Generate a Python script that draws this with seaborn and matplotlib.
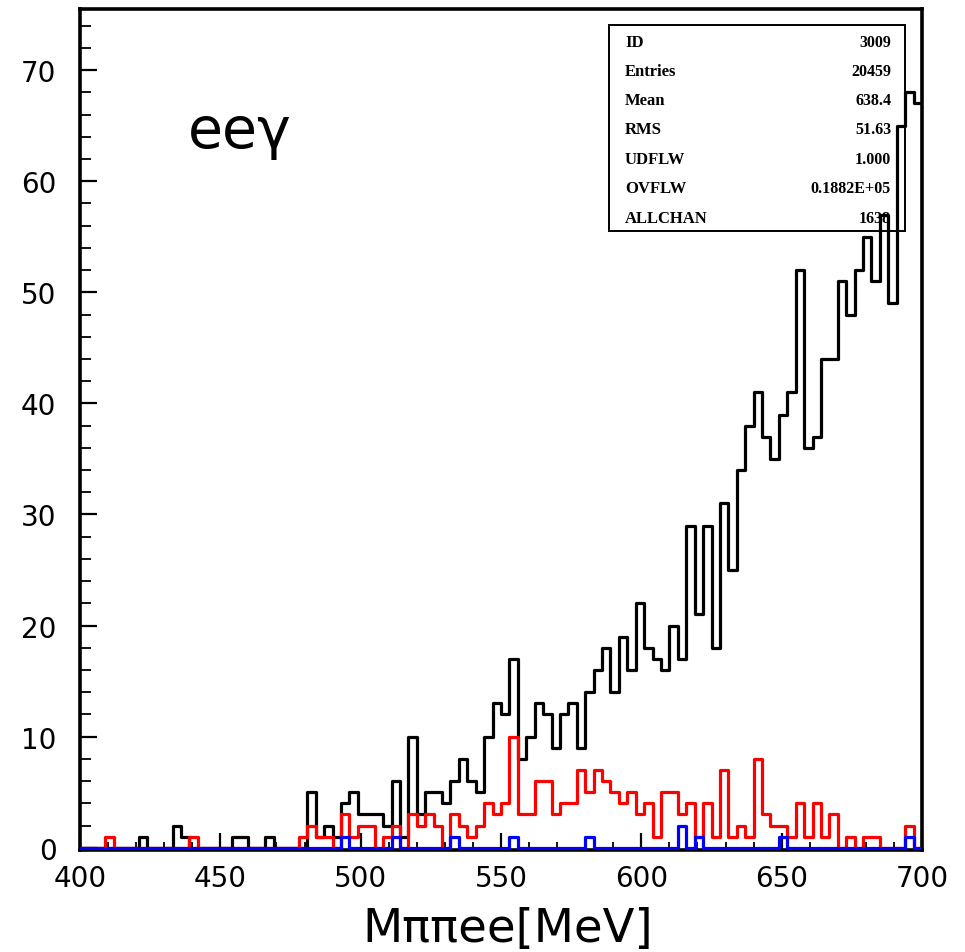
import numpy as np
import pandas as pd
import matplotlib
matplotlib.use("Agg")
import matplotlib.pyplot as plt
import seaborn as sns
from matplotlib.ticker import MultipleLocator
from matplotlib.patches import Rectangle

# ---------------- data ----------------
X_MIN, X_MAX, N_BINS = 400, 700, 100

black_counts = [
    0, 0, 0, 0, 0, 0, 0, 1, 0, 0,
    0, 2, 1, 0, 0, 0, 0, 0, 1, 1,
    0, 0, 1, 0, 0, 0, 0, 5, 1, 2,
    1, 4, 5, 3, 3, 3, 2, 6, 1, 10,
    3, 5, 5, 4, 6, 8, 6, 5, 10, 13,
    12, 17, 8, 10, 13, 12, 9, 12, 13, 9,
    14, 16, 18, 14, 19, 16, 22, 18, 17, 16,
    20, 17, 29, 21, 29, 18, 31, 25, 34, 38,
    41, 37, 35, 39, 41, 52, 36, 37, 44, 44,
    51, 48, 52, 55, 51, 57, 49, 65, 68, 67,
]
red_counts = [
    0, 0, 0, 1, 0, 0, 0, 0, 0, 0,
    0, 0, 0, 1, 0, 0, 0, 0, 0, 0,
    0, 0, 0, 0, 0, 0, 1, 2, 1, 1,
    0, 3, 1, 2, 2, 0, 1, 2, 0, 3,
    2, 3, 2, 0, 3, 2, 1, 2, 4, 3,
    4, 10, 3, 3, 6, 6, 3, 4, 4, 7,
    5, 7, 6, 5, 4, 5, 3, 4, 1, 5,
    5, 3, 4, 1, 4, 1, 7, 1, 2, 1,
    8, 3, 2, 2, 1, 4, 1, 4, 1, 3,
    0, 1, 0, 1, 1, 0, 0, 0, 2, 0,
]
blue_counts = [
    0, 0, 0, 0, 0, 0, 0, 0, 0, 0,
    0, 0, 0, 0, 0, 0, 0, 0, 0, 0,
    0, 0, 0, 0, 0, 0, 0, 0, 0, 0,
    0, 1, 0, 0, 0, 0, 0, 1, 0, 0,
    0, 0, 0, 0, 1, 0, 0, 0, 0, 0,
    0, 1, 0, 0, 0, 0, 0, 0, 0, 0,
    1, 0, 0, 0, 0, 0, 0, 0, 0, 0,
    0, 2, 0, 1, 0, 0, 0, 0, 0, 0,
    0, 0, 0, 1, 0, 0, 0, 0, 0, 0,
    0, 0, 0, 0, 0, 0, 0, 0, 1, 0,
]

stat_labels = ["ID", "Entries", "Mean", "RMS", "UDFLW", "OVFLW", "ALLCHAN"]
stat_values = ["3009", "20459", "638.4", "51.63", "1.000", "0.1882E+05", "1638"]

x_ticks = [400, 450, 500, 550, 600, 650, 700]
y_ticks = [0, 10, 20, 30, 40, 50, 60, 70]

x_label = "Mππee[MeV]"
channel_label = "eeγ"

# ---------------- style ----------------
sns.set_style("ticks")
plt.rcParams["font.family"] = ["DejaVu Sans"]
plt.rcParams["text.color"] = "black"
plt.rcParams["axes.labelcolor"] = "black"
plt.rcParams["xtick.color"] = "black"
plt.rcParams["ytick.color"] = "black"

W, H = 965, 953
fig = plt.figure(figsize=(W / 100, H / 100), dpi=100)
ax_l, ax_r, ax_t, ax_b = 80, 922, 10, 851
ax = fig.add_axes([ax_l / W, 1 - ax_b / H, (ax_r - ax_l) / W, (ax_b - ax_t) / H])

edges = np.linspace(X_MIN, X_MAX, N_BINS + 1)
centers = 0.5 * (edges[:-1] + edges[1:])
bin_list = [float(e) for e in edges]

for counts, col, z in [(black_counts, "black", 3), (red_counts, "#ff0000", 4), (blue_counts, "#0000ff", 5)]:
    df = pd.DataFrame({"M": centers, "n": np.asarray(counts, dtype=float)})
    sns.histplot(data=df, x="M", weights="n", bins=bin_list, element="step", fill=False,
                 color=col, linewidth=2.3, ax=ax, zorder=z)

ax.set_xlim(X_MIN, X_MAX)
ax.set_ylim(-0.2, 75.5)
ax.set_ylabel("")

ax.set_xticks(x_ticks)
ax.set_yticks(y_ticks)
ax.xaxis.set_minor_locator(MultipleLocator(10))
ax.yaxis.set_minor_locator(MultipleLocator(2))
ax.tick_params(which="both", direction="in", top=False, right=False, colors="black")
ax.xaxis.set_tick_params(which="major", length=12, width=1.6, labelsize=20, pad=10)
ax.xaxis.set_tick_params(which="minor", length=6, width=1.3)
ax.yaxis.set_tick_params(which="major", length=12, width=1.6, labelsize=20, pad=17)
ax.yaxis.set_tick_params(which="minor", length=8, width=1.3)
for lab in ax.get_xticklabels() + ax.get_yticklabels():
    lab.set_family("DejaVu Sans")
    lab.set_color("black")

for s in ax.spines.values():
    s.set_linewidth(2.6)
    s.set_color("black")
    s.set_zorder(2.5)

ax.set_xlabel(x_label, fontsize=33.5, family="DejaVu Sans", va="center", color="black")
ax.xaxis.set_label_coords((508 - ax_l) / (ax_r - ax_l), -(930 - ax_b) / (ax_b - ax_t))

# channel label
fig.text(188 / W, 1 - 148 / H, channel_label, fontsize=41, family="DejaVu Sans",
         ha="left", va="baseline", color="black")

# stats box
box_l, box_r, box_t, box_b = 609, 905, 26, 232
fig.patches.append(Rectangle((box_l / W, 1 - box_b / H), (box_r - box_l) / W, (box_b - box_t) / H,
                             transform=fig.transFigure, fill=False, edgecolor="black",
                             linewidth=1.4, zorder=1))
row_y = [43, 72, 101, 130, 160, 189, 219]
for lab, val, yy in zip(stat_labels, stat_values, row_y):
    fig.text(625 / W, 1 - yy / H, lab, fontsize=12, family="Liberation Serif",
             weight="bold", ha="left", va="center", zorder=1, color="black")
    fig.text(891 / W, 1 - yy / H, val, fontsize=11.5, family="Liberation Serif",
             weight="bold", ha="right", va="center", zorder=1, color="black")

fig.savefig("out.png", dpi=100, facecolor="white")
